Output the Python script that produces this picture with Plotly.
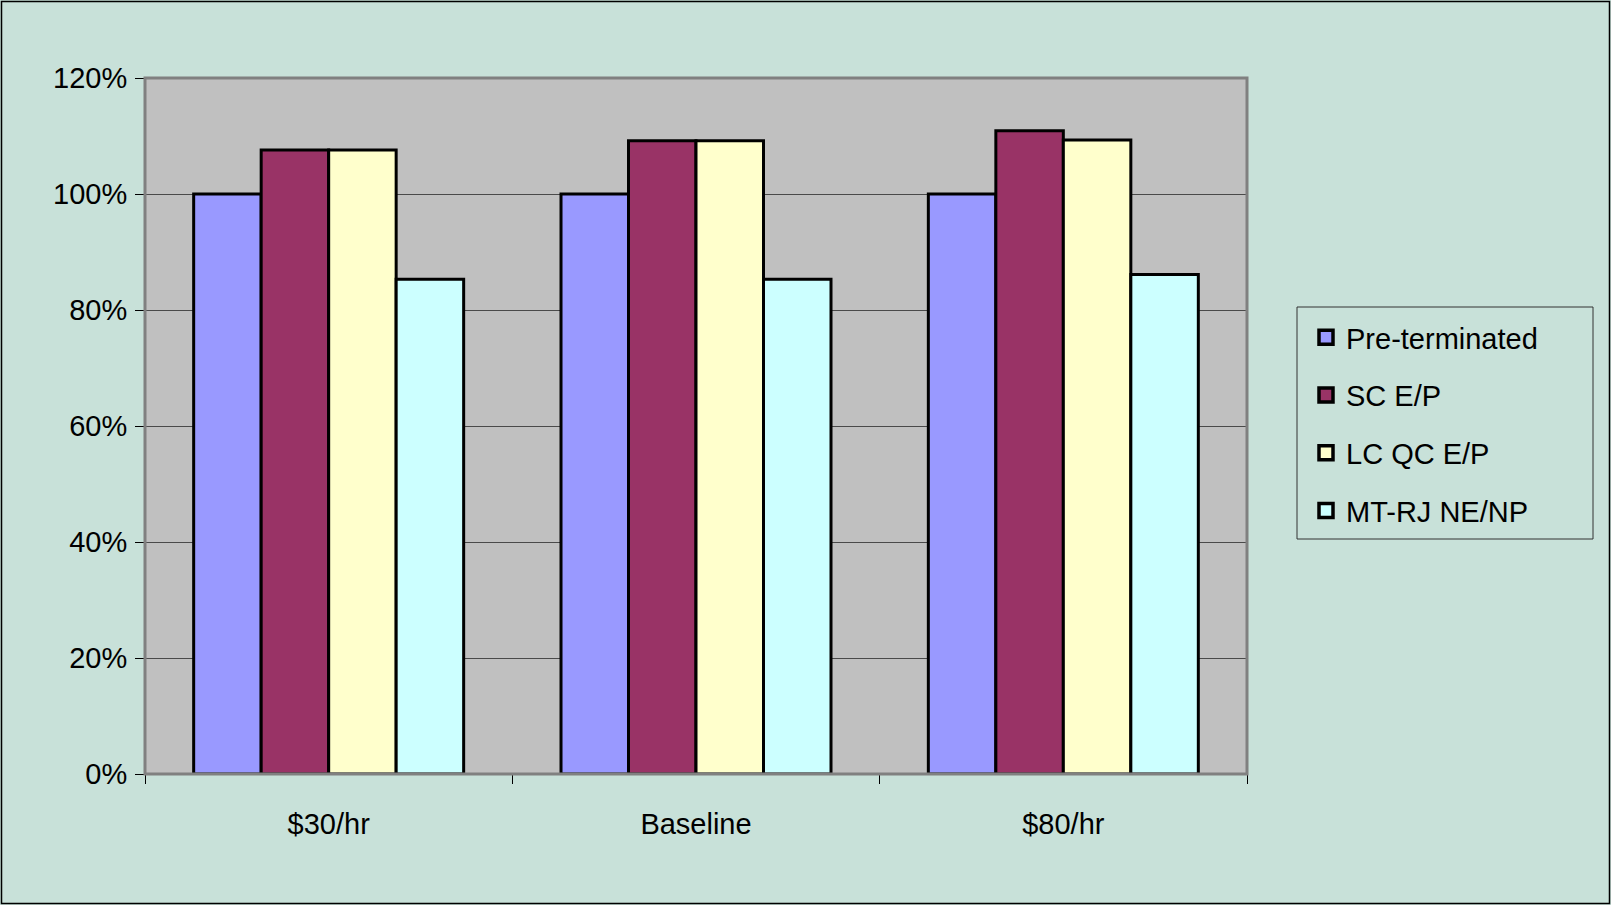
import plotly.graph_objects as go

categories = ["$30/hr", "Baseline", "$80/hr"]
series_names = ["Pre-terminated", "SC E/P", "LC QC E/P", "MT-RJ NE/NP"]
pre_terminated = [1.00, 1.00, 1.00]
sc_ep = [1.076, 1.092, 1.109]
lc_qc_ep = [1.076, 1.092, 1.093]
mt_rj = [0.853, 0.853, 0.861]
series_values = [pre_terminated, sc_ep, lc_qc_ep, mt_rj]
colors = ["#9999FF", "#993366", "#FFFFCC", "#CCFFFF"]
y_ticks = [0, 0.2, 0.4, 0.6, 0.8, 1.0, 1.2]
y_tick_labels = ["0%", "20%", "40%", "60%", "80%", "100%", "120%"]

W, H = 1611, 905
L, R, T, B = 145, 364, 78, 131
pw = W - L - R
ph = H - T - B

fig = go.Figure()
for i, (name, vals, col) in enumerate(zip(series_names, series_values, colors)):
    fig.add_trace(go.Bar(
        x=categories, y=vals, name=name, legendgroup=f"g{i}", showlegend=False,
        marker=dict(color=col, line=dict(color="black", width=3)),
    ))
    # legend-only entry with a larger square swatch
    fig.add_trace(go.Scatter(
        x=[None], y=[None], mode="markers", name=name, legendgroup=f"g{i}",
        marker=dict(symbol="square", size=14, color=col,
                    line=dict(color="black", width=3.5)),
        hoverinfo="skip",
    ))

font_family = "Liberation Sans, Arial, sans-serif"
bg = "#C8E1D9"

def px_x(x):
    return (x - L) / pw

def px_y(y):
    return (H - B - y) / ph

fig.update_layout(
    width=W, height=H,
    margin=dict(l=L, r=R, t=T, b=B, pad=0),
    paper_bgcolor=bg,
    plot_bgcolor="#C0C0C0",
    barmode="group",
    bargap=0.265,
    bargroupgap=0,
    font=dict(family=font_family, color="black", size=26),
    xaxis=dict(
        type="category", tickson="boundaries", ticks="outside", ticklen=9,
        tickcolor="black", tickwidth=1, showline=False, showgrid=False,
        tickfont=dict(size=29), ticklabelstandoff=30,
        categoryorder="array", categoryarray=categories,
    ),
    yaxis=dict(
        range=[0, 1.2], tickvals=y_ticks, ticktext=y_tick_labels,
        ticks="outside", ticklen=9, tickcolor="black", tickwidth=1,
        showgrid=True, gridcolor="#4a4a4a", gridwidth=1, zeroline=False,
        showline=False, tickfont=dict(size=29), ticklabelstandoff=2,
    ),
    legend=dict(
        x=px_x(1306), y=px_y(312), xanchor="left", yanchor="top",
        bgcolor="rgba(0,0,0,0)", borderwidth=0,
        font=dict(size=29, family=font_family),
        traceorder="grouped", tracegroupgap=17,
        itemwidth=30,
    ),
    shapes=[
        dict(type="rect", xref="paper", yref="paper", x0=0, x1=1, y0=0, y1=1,
             line=dict(color="#808080", width=3), layer="above"),
        dict(type="rect", xref="paper", yref="paper",
             x0=px_x(1.5), x1=px_x(W - 1.5), y0=px_y(H - 1.5), y1=px_y(1.5),
             line=dict(color="black", width=1.5), layer="above"),
        dict(type="rect", xref="paper", yref="paper",
             x0=px_x(1297), x1=px_x(1593), y0=px_y(539), y1=px_y(307),
             line=dict(color="#333333", width=1), layer="below"),
    ],
)

fig.write_html("out.html", config={"displayModeBar": False},
               post_script="document.body.style.margin='0';document.body.style.padding='0';")
